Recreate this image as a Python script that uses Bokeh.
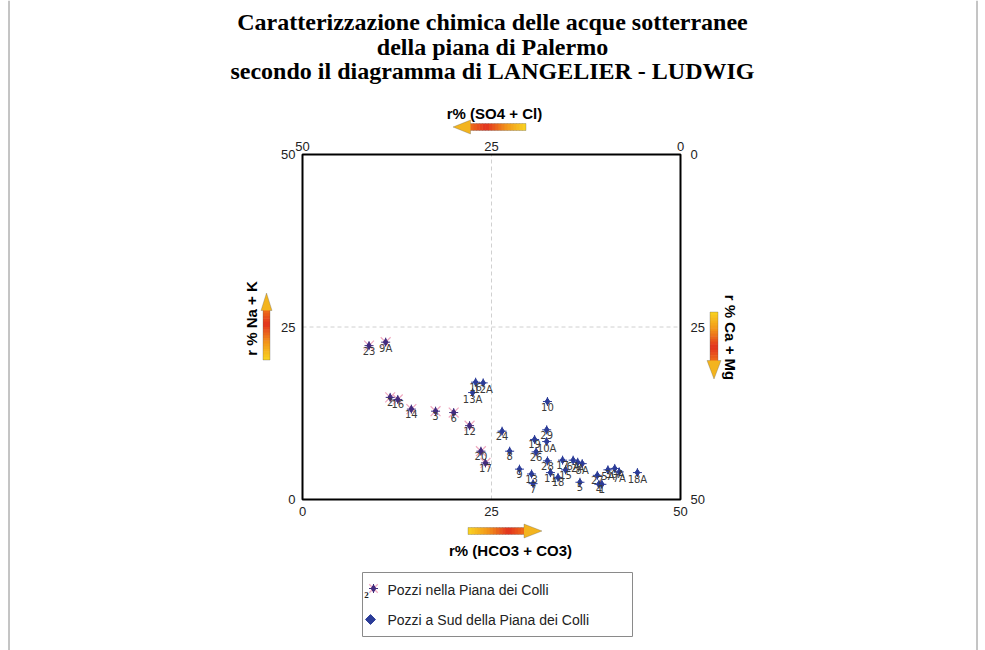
from bokeh.plotting import figure
from bokeh.models import (Range1d, ColumnDataSource, LabelSet, Label, Span,
                          BoxAnnotation, PolyAnnotation)
from bokeh.core.properties import value
from bokeh.embed import file_html
from bokeh.resources import INLINE
import math

# ---------------- data ----------------
TITLE_LINES = ["Caratterizzazione chimica delle acque sotterranee",
               "della piana di Palermo",
               "secondo il diagramma di LANGELIER - LUDWIG"]
X_TITLE = "r% (HCO3 + CO3)"
X2_TITLE = "r% (SO4 + Cl)"
Y_TITLE = "r % Na + K"
Y2_TITLE = "r % Ca + Mg"
TICKS = [0, 25, 50]
SERIES1_NAME = "Pozzi nella Piana dei Colli"
SERIES2_NAME = "Pozzi a Sud della Piana dei Colli"

# Pozzi nella Piana dei Colli
s1_labels = ["23", "9A", "2", "16", "14", "3", "6", "12", "20", "17"]
s1_hco3 = [8.8, 11.0, 11.6, 12.6, 14.4, 17.6, 20.0, 22.1, 23.6, 24.2]
s1_nak = [22.3, 22.8, 14.8, 14.5, 13.1, 12.8, 12.6, 10.7, 7.0, 5.3]

# Pozzi a Sud della Piana dei Colli
s2_labels = ["16", "12A", "13A", "24", "10", "8", "29", "19", "10A", "26", "9", "13", "7",
             "28", "11", "18", "17", "15", "6A", "2A", "8A", "5", "27", "4", "1", "5A",
             "30A", "7A", "18A"]
s2_hco3 = [22.9, 23.9, 22.5, 26.4, 32.4, 27.4, 32.3, 30.7, 32.3, 30.9, 28.7, 30.3, 30.5,
           32.4, 32.8, 33.8, 34.4, 34.8, 35.8, 36.4, 37.0, 36.7, 39.0, 39.2, 39.6, 40.4,
           41.3, 41.9, 44.3]
s2_nak = [17.0, 16.9, 15.5, 9.9, 14.2, 7.0, 10.1, 8.7, 8.4, 6.9, 4.4, 3.7, 2.3,
          5.6, 3.9, 3.2, 5.7, 4.3, 5.7, 5.4, 5.2, 2.5, 3.5, 2.2, 2.2, 4.3,
          4.5, 4.0, 3.9]

# ---------------- layout helpers (page pixels -> data units) ----------------
W, H = 985, 650
BOX_L, BOX_R, BOX_T, BOX_B = 302, 680, 154, 499
LO, HI = TICKS[0], TICKS[-1]
SX = (BOX_R - BOX_L) / (HI - LO)
SY = (BOX_B - BOX_T) / (HI - LO)

def px(X):
    return LO + (X - BOX_L) / SX

def py(Y):
    return LO + (BOX_B - Y) / SY

p = figure(width=W, height=H, output_backend="svg", toolbar_location=None,
           x_range=Range1d(px(0), px(W)), y_range=Range1d(py(H), py(0)),
           min_border=0, min_border_left=0, min_border_right=0,
           min_border_top=0, min_border_bottom=0,
           x_axis_location=None, y_axis_location=None)
p.background_fill_color = "white"
p.border_fill_color = "white"
p.outline_line_color = None
p.xgrid.visible = False
p.ygrid.visible = False

# page frame lines
for X in (8.5, 976.5):
    p.add_layout(Span(location=px(X), dimension="height", line_color="#8a8a8a", line_width=1))

# ---------------- diagram box, grid, tick labels ----------------
MID = TICKS[1]
p.segment(x0=[MID, LO], y0=[LO, MID], x1=[MID, HI], y1=[HI, MID],
          line_color="#d0d0d0", line_dash="4 3", line_width=1)
p.quad(left=[LO], right=[HI], bottom=[LO], top=[HI], fill_color=None,
       line_color="black", line_width=2)

tick_txt = [str(t) for t in TICKS]
rev = [HI - t + LO for t in TICKS]
tick_style = dict(text_font=value("Liberation Sans"), text_font_size="13px", text_color="#222222")
p.text(x=TICKS, y=[py(BOX_B + 7)] * 3, text=tick_txt, text_align="center",
       text_baseline="top", **tick_style)                                   # bottom
p.text(x=rev, y=[py(BOX_T - 4)] * 3, text=tick_txt, text_align="center",
       text_baseline="bottom", **tick_style)                                # top
p.text(x=[px(BOX_L - 7)] * 3, y=TICKS, text=tick_txt, text_align="right",
       text_baseline="middle", **tick_style)                                # left
p.text(x=[px(BOX_R + 10)] * 3, y=rev, text=tick_txt, text_align="left",
       text_baseline="middle", **tick_style)                                # right

# ---------------- points ----------------
src1 = ColumnDataSource(dict(x=s1_hco3, y=s1_nak, lab=s1_labels))
src2 = ColumnDataSource(dict(x=s2_hco3, y=s2_nak, lab=s2_labels))

BLUE = "#2b3c98"
PURPLE = "#432c7e"
PINK = "#efa9c0"

p.scatter("x", "y", source=src1, marker="x", size=14, line_color=PINK, line_width=1.2)
p.scatter("x", "y", source=src1, marker="diamond", size=7, fill_color=PURPLE, line_color=PURPLE)
p.scatter("x", "y", source=src1, marker="cross", size=9, line_color=PURPLE, line_width=1)
p.scatter("x", "y", source=src2, marker="diamond", size=7, fill_color=BLUE, line_color=BLUE)
p.scatter("x", "y", source=src2, marker="cross", size=9, line_color=BLUE, line_width=1)

for src in (src1, src2):
    p.add_layout(LabelSet(x="x", y="y", text="lab", source=src, text_align="center",
                          text_baseline="top", y_offset=-1,
                          text_font=value("DejaVu Sans"), text_font_size="10px",
                          text_color="#3a3a3a"))

# ---------------- titles ----------------
for txt, Y in zip(TITLE_LINES, [21, 46, 70]):
    p.add_layout(Label(x=px(492), y=py(Y), text=txt, text_align="center", text_baseline="middle",
                       text_font="Liberation Serif", text_font_style="bold",
                       text_font_size="24px", text_color="black"))

def axis_title(X, Y, txt, angle=0.0):
    p.add_layout(Label(x=px(X), y=py(Y), text=txt, angle=angle, text_align="center",
                       text_baseline="middle", text_font="Liberation Sans",
                       text_font_style="bold", text_font_size="15px", text_color="black"))

axis_title(494, 113, X2_TITLE)
axis_title(510, 550, X_TITLE)
axis_title(251, 318, Y_TITLE, math.pi / 2)
axis_title(730, 337, Y2_TITLE, -math.pi / 2)

# ---------------- gradient arrows (page pixel geometry) ----------------
STOPS = [(0.0, (248, 212, 32)), (0.35, (242, 150, 26)), (0.72, (226, 50, 30)),
         (1.0, (238, 110, 26))]
HEAD = "#f3b41e"

def grad(t):
    for (t0, c0), (t1, c1) in zip(STOPS[:-1], STOPS[1:]):
        if t <= t1:
            f = (t - t0) / (t1 - t0)
            c = [round(a + (b - a) * f) for a, b in zip(c0, c1)]
            return "#%02x%02x%02x" % tuple(c)
    return "#%02x%02x%02x" % STOPS[-1][1]

def arrow(tail, base, tip, c, sh, hh, vertical, n=18):
    # all arguments in page pixels
    seg = (base - tail) / n
    for i in range(n):
        a = tail + seg * i
        b = tail + seg * (i + 1.2)
        col = grad((i + 0.5) / n)
        lo, hi = min(a, b), max(a, b)
        if vertical:
            p.add_layout(BoxAnnotation(top=py(lo), bottom=py(hi), left=px(c - sh), right=px(c + sh),
                                       fill_color=col, fill_alpha=1, line_color=None))
        else:
            p.add_layout(BoxAnnotation(left=px(lo), right=px(hi), top=py(c - sh), bottom=py(c + sh),
                                       fill_color=col, fill_alpha=1, line_color=None))
    along = [tail, base, base, tip, base, base, tail]
    across = [c + sh, c + sh, c + hh, c, c - hh, c - sh, c - sh]
    hal = [base, tip, base]
    hac = [c + hh, c, c - hh]
    if vertical:
        xs, ys, hx, hy = across, along, hac, hal
    else:
        xs, ys, hx, hy = along, across, hal, hac
    p.add_layout(PolyAnnotation(xs=[px(v) for v in hx], ys=[py(v) for v in hy],
                                fill_color=HEAD, fill_alpha=1, line_color=None))
    p.add_layout(PolyAnnotation(xs=[px(v) for v in xs], ys=[py(v) for v in ys],
                                fill_alpha=0, line_color="#5a5a5a", line_width=1))

arrow(525.5, 470, 452.5, 126.5, 3.5, 7, False)    # top, pointing left
arrow(467.5, 523.5, 541.5, 530.5, 3.5, 7, False)  # bottom, pointing right
arrow(359.5, 310, 292.5, 266, 3.5, 5.5, True)     # left, pointing up
arrow(311.5, 360, 378.5, 713.5, 4, 7, True)       # right, pointing down

# ---------------- legend (drawn with glyphs) ----------------
p.quad(left=[px(362)], right=[px(632)], top=[py(572)], bottom=[py(636)],
       fill_color="white", line_color="#8a8a8a", line_width=1)
p.scatter(x=[px(373)], y=[py(588)], marker="x", size=12, line_color=PINK, line_width=1.2)
p.scatter(x=[px(373)], y=[py(588)], marker="diamond", size=7, fill_color=PURPLE, line_color=PURPLE)
p.scatter(x=[px(373)], y=[py(588)], marker="cross", size=9, line_color=PURPLE, line_width=1)
p.scatter(x=[px(370)], y=[py(619)], marker="square", angle=math.pi / 4, size=7,
          fill_color=BLUE, line_color=BLUE)
p.text(x=[px(366)], y=[py(594)], text=["2"], text_align="center", text_baseline="middle",
       text_font=value("Liberation Serif"), text_font_style="bold",
       text_font_size="9px", text_color="#222222")
p.text(x=[px(387)] * 2, y=[py(589), py(619)], text=[SERIES1_NAME, SERIES2_NAME],
       text_align="left", text_baseline="middle", text_font=value("Liberation Sans"),
       text_font_size="14px", text_color="#222222")

open("out.html", "w").write(file_html(p, INLINE))
